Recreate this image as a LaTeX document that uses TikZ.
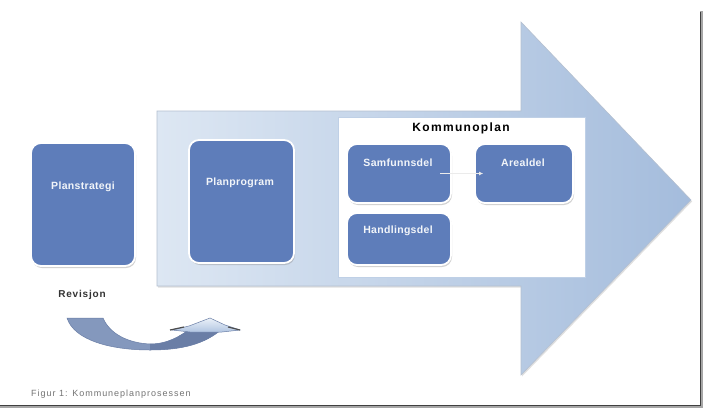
\documentclass[tikz,border=0pt]{standalone}
\usepackage{fontspec}
\newfontfamily\boxfont{Liberation Sans}[LetterSpace=3]
\newfontfamily\titlefont{Liberation Sans}[LetterSpace=11]
\newfontfamily\revfont{Liberation Sans}[LetterSpace=8]
\newfontfamily\capfont{Liberation Sans}[LetterSpace=11]
\usetikzlibrary{shadows,arrows.meta}
\definecolor{boxblue}{HTML}{5E7DBA}
\definecolor{arrowlight}{HTML}{DDE7F3}
\definecolor{arrowdark}{HTML}{A4BCDC}
\definecolor{ribbon}{HTML}{8498BD}
\definecolor{ribbondark}{HTML}{6A7EA6}
\definecolor{headlight}{HTML}{BCD0EA}
\tikzset{
  pbox/.style={draw=white, line width=1.8pt, fill=boxblue, rounded corners=10pt,
    drop shadow={shadow xshift=1pt, shadow yshift=-2pt, opacity=0.35}},
  boxtext/.style={text=white!92!boxblue, font=\boxfont\bfseries\fontsize{10.5}{12}\selectfont, inner sep=0pt},
  titletext/.style={text=black, font=\titlefont\bfseries\fontsize{12}{14}\selectfont, inner sep=0pt},
  revtext/.style={text=black!80, font=\revfont\bfseries\fontsize{10}{12}\selectfont, inner sep=0pt},
  captext/.style={text=black!55, font=\capfont\fontsize{9}{11}\selectfont, inner sep=0pt, anchor=west},
  flow/.style={draw=white!92!black, line width=1.2pt, -{Latex[length=4pt,width=4pt]}}
}
\begin{document}
\begin{tikzpicture}[x=1pt,y=-1pt]
\useasboundingbox (0,0) rectangle (704,410);
\fill[white] (0,0) rectangle (704,410);
% frame
\draw[black!35, line width=3pt] (0,406) -- (701,406) -- (701,11);
\draw[black!75, line width=1pt] (0,405) -- (700,405) -- (700,12);
% big arrow
\path[draw=arrowdark!80!black!60, line width=0.6pt, left color=arrowlight, right color=arrowdark,
  drop shadow={shadow xshift=1pt, shadow yshift=-1.5pt, opacity=0.25}]
  (157,111) -- (521,111) -- (521,22) -- (691,200) -- (521,375) -- (521,286) -- (157,286) -- cycle;
% Kommunoplan frame
\draw[fill=white, draw=arrowdark!70] (338,117) rectangle (585,277);
\node[titletext] (kt) at (461,128) {Kommunoplan};
% boxes
\node[pbox, minimum width=104pt, minimum height=123pt] (ps) at (83,204.5) {};
\node[pbox, minimum width=105pt, minimum height=123pt] (pp) at (241.5,201.5) {};
\node[pbox, minimum width=104pt, minimum height=59pt] (sam) at (399,173.5) {};
\node[pbox, minimum width=98pt, minimum height=59pt] (are) at (524,173.5) {};
\node[pbox, minimum width=104pt, minimum height=52pt] (han) at (399,239) {};
\node[boxtext] (pst) at (83,187) {Planstrategi};
\node[boxtext] (ppt) at (240,183) {Planprogram};
\node[boxtext] (samt) at (398,163) {Samfunnsdel};
\node[boxtext] (aret) at (523,163) {Arealdel};
\node[boxtext] (hant) at (398,231) {Handlingsdel};
\draw[flow] ([xshift=-12pt]sam.east) -- ([xshift=9pt]are.west);
% revisjon
\node[revtext] (rev) at (82,295) {Revisjon};
\fill[ribbon, draw=ribbondark, line width=0.5pt]
  (67,318) -- (103,318) .. controls (110,334) and (128,343) .. (150,344)
  .. controls (168,344) and (180,336) .. (190,329) -- (222,329)
  .. controls (205,344) and (182,350) .. (150,350)
  .. controls (110,350) and (74,340) .. (67,318) -- cycle;
\fill[ribbondark] (150,344) .. controls (168,344) and (180,336) .. (190,329) -- (222,329)
  .. controls (205,344) and (182,350) .. (150,350) -- cycle;
\path[draw=ribbondark, line width=0.5pt, top color=white!70!headlight, bottom color=headlight!80!ribbon]
  (172,330) -- (189,326) -- (210,318) -- (225,325) -- (240,330) -- (222,332) -- (190,332) -- cycle;
\draw[black!70, line width=1.2pt] (170,330) -- (184,327);
\draw[black!70, line width=1.2pt] (228,327) -- (240,330);
% caption
\node[captext] (cap) at (31,394) {Figur 1: Kommuneplanprosessen};
\end{tikzpicture}
\end{document}
